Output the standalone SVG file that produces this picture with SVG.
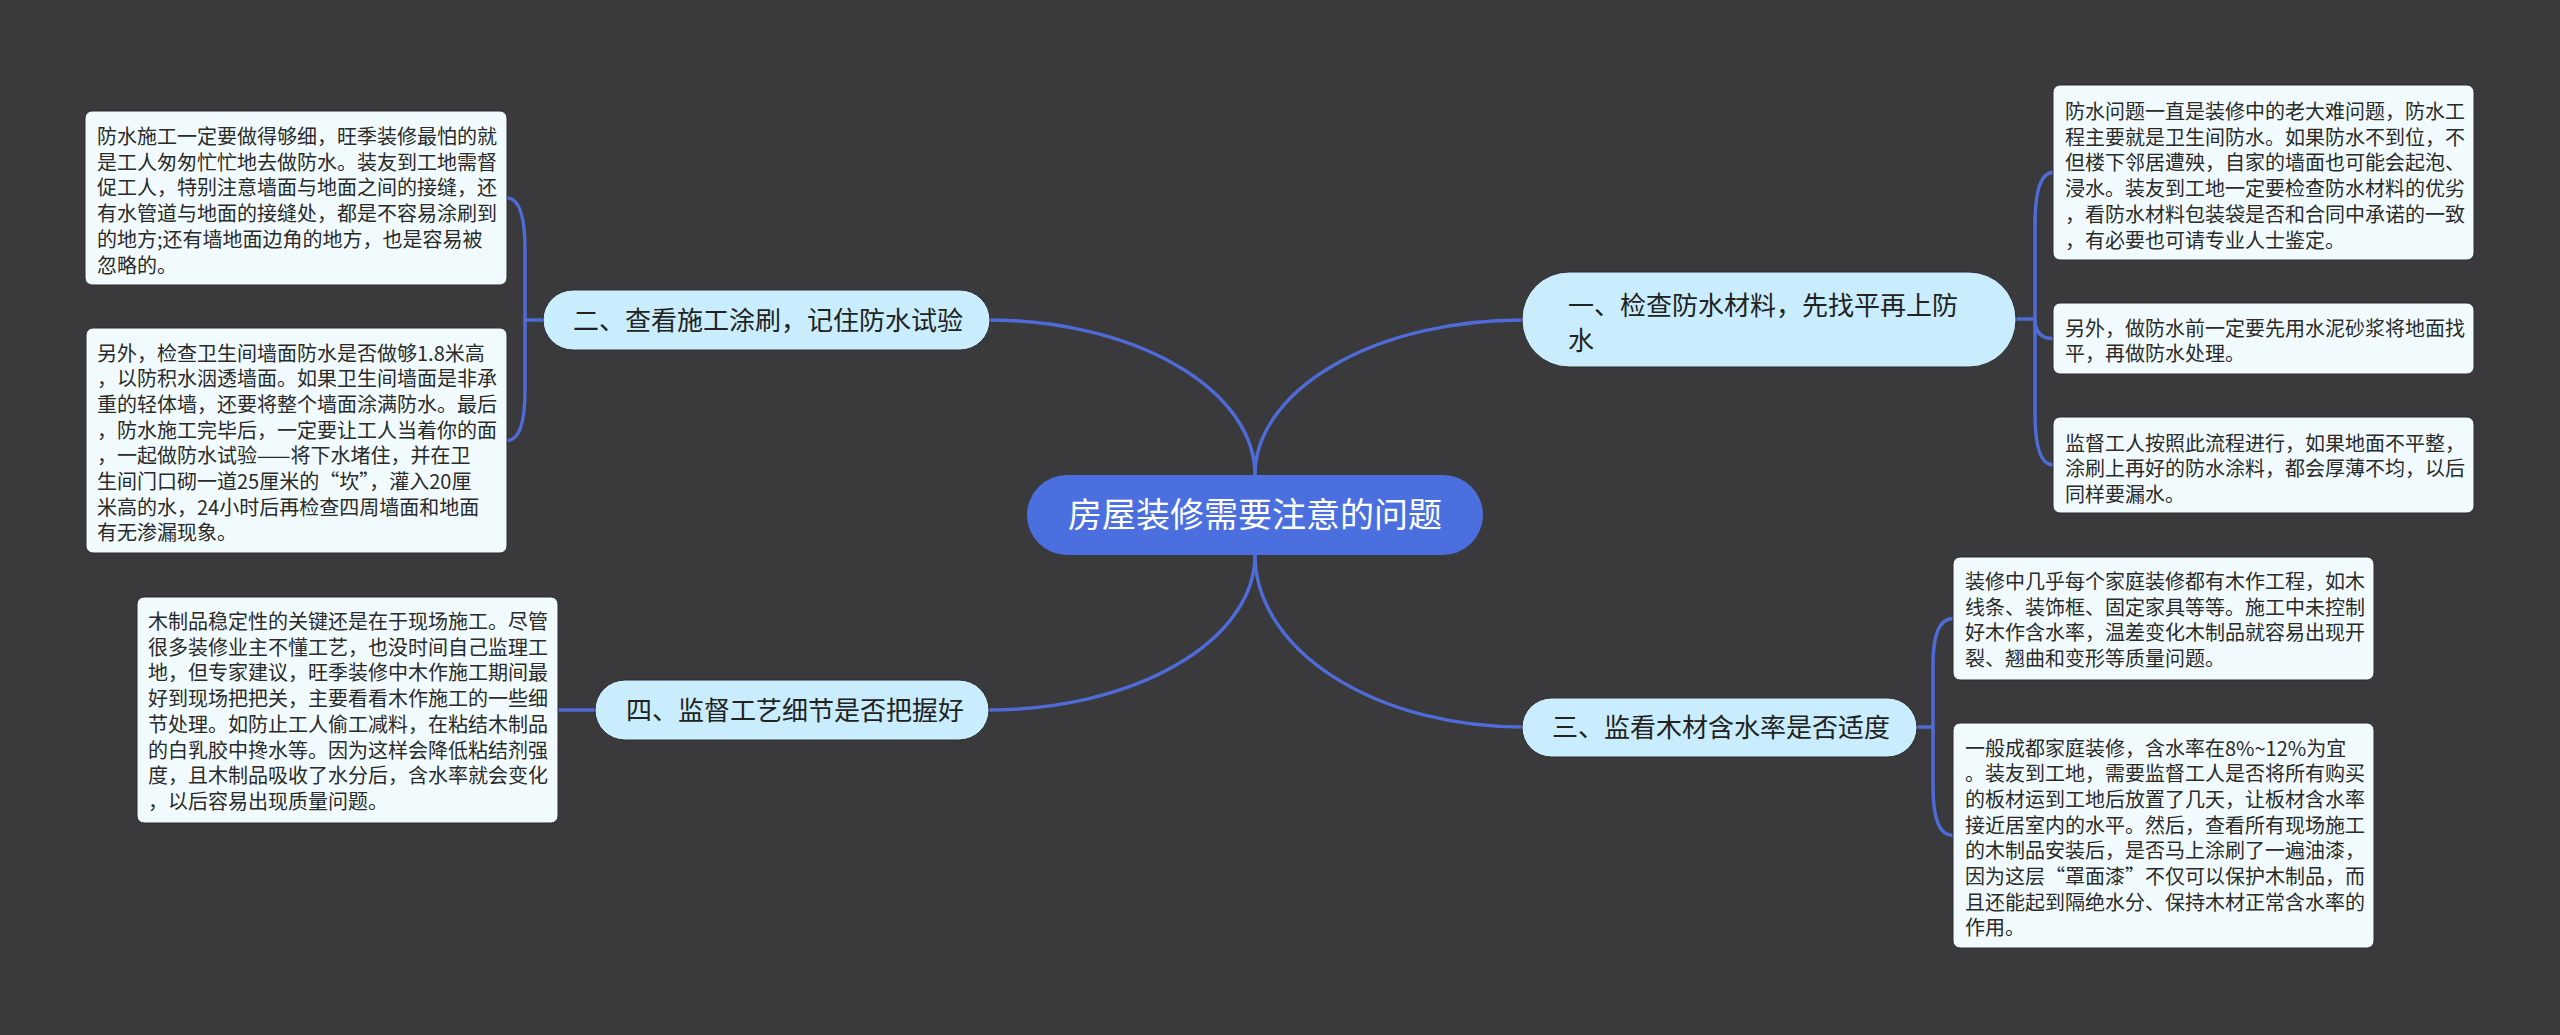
<svg xmlns="http://www.w3.org/2000/svg" width="2560" height="1035" viewBox="0 0 2560 1035">
<style>
.bg{fill:#3a393b}
.line{fill:none;stroke:#4f6bd8;stroke-width:3.5;stroke-linecap:round}
.root{fill:#4c6fe0}
.rootText{font-family:"Noto Sans CJK SC","Noto Sans",sans-serif;font-size:34px;fill:#ffffff}
.branch{fill:#c9edfc;stroke:#2c2c2e;stroke-width:1}
.branchText{font-family:"Noto Sans CJK SC","Noto Sans",sans-serif;font-size:26px;fill:#222222}
.leaf{fill:#f1fbfd;stroke:#2c2c2e;stroke-width:1}
.leafText{font-family:"Noto Sans CJK SC","Noto Sans",sans-serif;font-size:20px;fill:#2a2a2a}
</style>
<rect class="bg" x="0" y="0" width="2560" height="1035"/>
<g id="connectors">
<path class="line" d="M1255,475 A267,155 0 0 1 1522,320"/>
<path class="line" d="M1255,475 A267,155 0 0 0 988,320"/>
<path class="line" d="M1255,555 A267,172 0 0 0 1522,727"/>
<path class="line" d="M1255,555 A266,155 0 0 1 989,710"/>
<path class="line" d="M2015,319 H2035 M2035,319 V225 Q2035,172.5 2053,172.5 M2035,319 Q2035,338.5 2053,338.5 M2035,319 V413 Q2035,465 2053,465"/>
<path class="line" d="M543,320 H525 M525,320 V250 Q525,198 507,198 M525,320 V390 Q525,440.5 507,440.5"/>
<path class="line" d="M1917,727 H1933 M1933,727 V665 Q1933,618.5 1953,618.5 M1933,727 V787 Q1933,835.5 1953,835.5"/>
<path class="line" d="M558,710 H595"/>
</g>
<g id="root">
<rect class="root" x="1027" y="475" width="456" height="80" rx="40"/>
<text class="rootText" x="1255" y="527" text-anchor="middle">房屋装修需要注意的问题</text>
</g>
<g id="branch1">
<rect class="branch" x="1522" y="272" width="494" height="95" rx="47"/>
<text class="branchText" x="1568" y="314.5">一、检查防水材料，先找平再上防<tspan x="1568" y="349.5">水</tspan></text>
</g>
<g id="branch2">
<rect class="branch" x="543" y="290" width="447" height="60" rx="30"/>
<text class="branchText" x="573" y="329.5">二、查看施工涂刷，记住防水试验</text>
</g>
<g id="branch3">
<rect class="branch" x="1522" y="698" width="395" height="59" rx="29.5"/>
<text class="branchText" x="1552" y="736.5">三、监看木材含水率是否适度</text>
</g>
<g id="branch4">
<rect class="branch" x="595" y="680" width="394" height="60" rx="30"/>
<text class="branchText" x="626" y="719.5">四、监督工艺细节是否把握好</text>
</g>
<g id="leaf-l1">
<rect class="leaf" x="85" y="111" width="422" height="174" rx="7"/>
<text class="leafText" x="97" y="144"><tspan x="97" dy="0">防水施工一定要做得够细，旺季装修最怕的就</tspan><tspan x="97" dy="25.7">是工人匆匆忙忙地去做防水。装友到工地需督</tspan><tspan x="97" dy="25.7">促工人，特别注意墙面与地面之间的接缝，还</tspan><tspan x="97" dy="25.7">有水管道与地面的接缝处，都是不容易涂刷到</tspan><tspan x="97" dy="25.7">的地方;还有墙地面边角的地方，也是容易被</tspan><tspan x="97" dy="25.7">忽略的。</tspan></text>
</g>
<g id="leaf-l2">
<rect class="leaf" x="86" y="328" width="421" height="225" rx="7"/>
<text class="leafText" x="97" y="360.5"><tspan x="97" dy="0">另外，检查卫生间墙面防水是否做够1.8米高</tspan><tspan x="97" dy="25.7">，以防积水洇透墙面。如果卫生间墙面是非承</tspan><tspan x="97" dy="25.7">重的轻体墙，还要将整个墙面涂满防水。最后</tspan><tspan x="97" dy="25.7">，防水施工完毕后，一定要让工人当着你的面</tspan><tspan x="97" dy="25.7">，一起做防水试验——将下水堵住，并在卫</tspan><tspan x="97" dy="25.7">生间门口砌一道25厘米的“坎”，灌入20厘</tspan><tspan x="97" dy="25.7">米高的水，24小时后再检查四周墙面和地面</tspan><tspan x="97" dy="25.7">有无渗漏现象。</tspan></text>
</g>
<g id="leaf-l3">
<rect class="leaf" x="137" y="597" width="421" height="226" rx="7"/>
<text class="leafText" x="148" y="629"><tspan x="148" dy="0">木制品稳定性的关键还是在于现场施工。尽管</tspan><tspan x="148" dy="25.7">很多装修业主不懂工艺，也没时间自己监理工</tspan><tspan x="148" dy="25.7">地，但专家建议，旺季装修中木作施工期间最</tspan><tspan x="148" dy="25.7">好到现场把把关，主要看看木作施工的一些细</tspan><tspan x="148" dy="25.7">节处理。如防止工人偷工减料，在粘结木制品</tspan><tspan x="148" dy="25.7">的白乳胶中搀水等。因为这样会降低粘结剂强</tspan><tspan x="148" dy="25.7">度，且木制品吸收了水分后，含水率就会变化</tspan><tspan x="148" dy="25.7">，以后容易出现质量问题。</tspan></text>
</g>
<g id="leaf-r1">
<rect class="leaf" x="2053" y="85" width="421" height="175" rx="7"/>
<text class="leafText" x="2065" y="119"><tspan x="2065" dy="0">防水问题一直是装修中的老大难问题，防水工</tspan><tspan x="2065" dy="25.7">程主要就是卫生间防水。如果防水不到位，不</tspan><tspan x="2065" dy="25.7">但楼下邻居遭殃，自家的墙面也可能会起泡、</tspan><tspan x="2065" dy="25.7">浸水。装友到工地一定要检查防水材料的优劣</tspan><tspan x="2065" dy="25.7">，看防水材料包装袋是否和合同中承诺的一致</tspan><tspan x="2065" dy="25.7">，有必要也可请专业人士鉴定。</tspan></text>
</g>
<g id="leaf-r2">
<rect class="leaf" x="2053" y="303" width="421" height="71" rx="7"/>
<text class="leafText" x="2065" y="335.7"><tspan x="2065" dy="0">另外，做防水前一定要先用水泥砂浆将地面找</tspan><tspan x="2065" dy="25.7">平，再做防水处理。</tspan></text>
</g>
<g id="leaf-r3">
<rect class="leaf" x="2053" y="417" width="421" height="96" rx="7"/>
<text class="leafText" x="2065" y="450.7"><tspan x="2065" dy="0">监督工人按照此流程进行，如果地面不平整，</tspan><tspan x="2065" dy="25.7">涂刷上再好的防水涂料，都会厚薄不均，以后</tspan><tspan x="2065" dy="25.7">同样要漏水。</tspan></text>
</g>
<g id="leaf-r4">
<rect class="leaf" x="1953" y="557" width="421" height="123" rx="7"/>
<text class="leafText" x="1965" y="589"><tspan x="1965" dy="0">装修中几乎每个家庭装修都有木作工程，如木</tspan><tspan x="1965" dy="25.7">线条、装饰框、固定家具等等。施工中未控制</tspan><tspan x="1965" dy="25.7">好木作含水率，温差变化木制品就容易出现开</tspan><tspan x="1965" dy="25.7">裂、翘曲和变形等质量问题。</tspan></text>
</g>
<g id="leaf-r5">
<rect class="leaf" x="1953" y="723" width="421" height="225" rx="7"/>
<text class="leafText" x="1965" y="755.5"><tspan x="1965" dy="0">一般成都家庭装修，含水率在8%~12%为宜</tspan><tspan x="1965" dy="25.7">。装友到工地，需要监督工人是否将所有购买</tspan><tspan x="1965" dy="25.7">的板材运到工地后放置了几天，让板材含水率</tspan><tspan x="1965" dy="25.7">接近居室内的水平。然后，查看所有现场施工</tspan><tspan x="1965" dy="25.7">的木制品安装后，是否马上涂刷了一遍油漆，</tspan><tspan x="1965" dy="25.7">因为这层“罩面漆”不仅可以保护木制品，而</tspan><tspan x="1965" dy="25.7">且还能起到隔绝水分、保持木材正常含水率的</tspan><tspan x="1965" dy="25.7">作用。</tspan></text>
</g>
</svg>
